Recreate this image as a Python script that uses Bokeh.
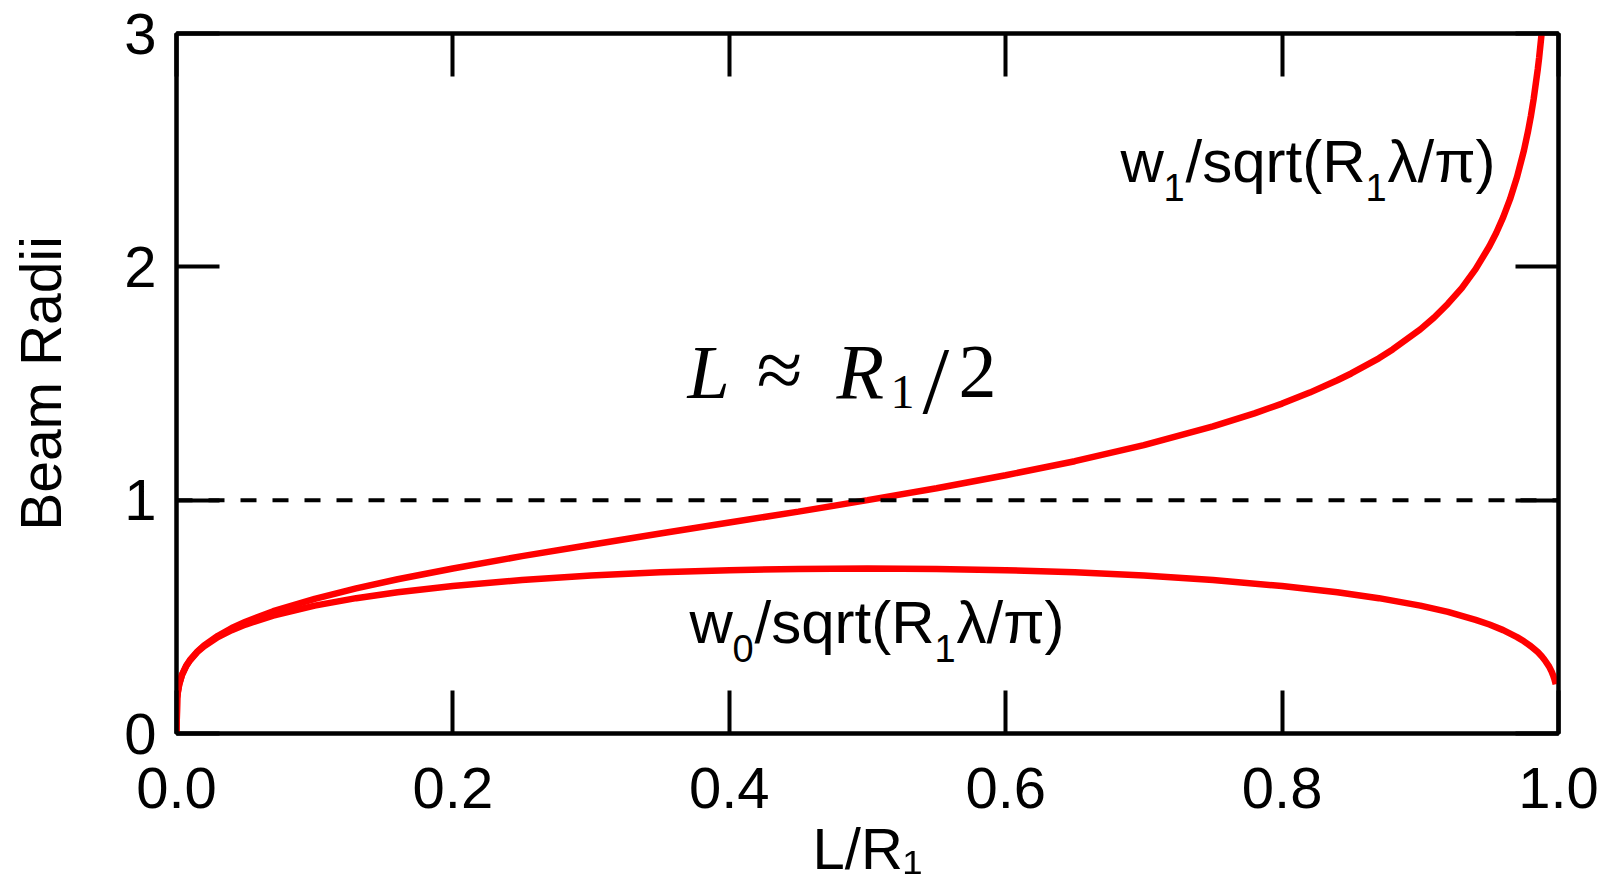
import math
from bokeh.plotting import figure
from bokeh.models import (Label, Span, LinearAxis, FixedTicker, NumeralTickFormatter,
                          CustomJSTickFormatter, Range1d)
from bokeh.embed import file_html
from bokeh.resources import INLINE

# ---- data ----
x_w1 = [0, 0.0005, 0.001, 0.002, 0.004, 0.007, 0.01, 0.015, 0.02, 0.03,
        0.04, 0.05, 0.07, 0.1, 0.13, 0.16, 0.2, 0.25, 0.3, 0.35,
        0.4, 0.45, 0.5, 0.55, 0.6, 0.65, 0.7, 0.75,
        0.78, 0.8, 0.82, 0.84, 0.85, 0.87, 0.88, 0.9, 0.91, 0.92,
        0.93, 0.94, 0.95, 0.955, 0.96, 0.965, 0.97, 0.975, 0.978, 0.98,
        0.982, 0.985, 0.986, 0.988]
w1 = [0, 0.150, 0.178, 0.212, 0.252, 0.290, 0.317, 0.351, 0.378, 0.419,
      0.452, 0.479, 0.524, 0.577, 0.622, 0.661, 0.707, 0.760, 0.809, 0.857,
      0.904, 0.951, 1.000, 1.051, 1.107, 1.167, 1.236, 1.316,
      1.372, 1.414, 1.461, 1.514, 1.543, 1.608, 1.646, 1.732, 1.783, 1.842,
      1.909, 1.990, 2.088, 2.146, 2.213, 2.291, 2.385, 2.499, 2.582, 2.646,
      2.718, 2.847, 2.897, 3.012]

x_w0 = [0, 0.0005, 0.001, 0.002, 0.004, 0.007, 0.01, 0.015, 0.02, 0.03,
        0.04, 0.05, 0.07, 0.1, 0.13, 0.16, 0.2, 0.25, 0.3, 0.35,
        0.4, 0.45, 0.5, 0.55, 0.6, 0.65, 0.7, 0.75, 0.8, 0.84,
        0.87, 0.9, 0.92, 0.94, 0.95, 0.96, 0.97, 0.975, 0.98, 0.985,
        0.988, 0.99, 0.993, 0.995, 0.996, 0.997, 0.998]
w0 = [0, 0.150, 0.178, 0.211, 0.251, 0.289, 0.315, 0.349, 0.374, 0.413,
      0.443, 0.467, 0.505, 0.548, 0.580, 0.605, 0.632, 0.658, 0.677, 0.691,
      0.700, 0.705, 0.707, 0.705, 0.700, 0.691, 0.677, 0.658, 0.632, 0.605,
      0.580, 0.548, 0.521, 0.487, 0.467, 0.443, 0.413, 0.395, 0.374, 0.349,
      0.330, 0.315, 0.289, 0.266, 0.251, 0.234, 0.211]

ref_level = 1.0
x_ticks = [0.0, 0.2, 0.4, 0.6, 0.8, 1.0]
y_ticks = [0, 1, 2, 3]
x_limits = (0.0, 1.0)
y_limits = (0.0, 3.0)

x_title = "L/R\u2081"
y_title = "Beam Radii"
w1_label = ["w", "1", "/sqrt(R", "1", "λ/π)"]
w0_label = ["w", "0", "/sqrt(R", "1", "λ/π)"]

# ---- figure ----
W, H = 1600, 883
FX0, FX1, FY0, FY1 = 176, 1558, 735, 33   # frame edges in page pixels
p = figure(width=W, height=H, output_backend="svg", toolbar_location=None,
           x_range=Range1d(*x_limits), y_range=Range1d(*y_limits),
           x_axis_location=None, y_axis_location=None,
           min_border_left=FX0, min_border_right=W - FX1,
           min_border_top=FY1, min_border_bottom=H - FY0)
p.xgrid.visible = False
p.ygrid.visible = False
p.background_fill_color = "white"
p.border_fill_color = "white"
p.outline_line_color = "black"
p.outline_line_width = 4

FONT = "Liberation Sans"
TICK_SIZE = "58px"

def style_axis(ax, ticks, show_labels, fmt=None, standoff=22):
    ax.ticker = FixedTicker(ticks=ticks)
    ax.axis_line_color = "black"
    ax.axis_line_width = 4
    ax.major_tick_line_color = "black"
    ax.major_tick_line_width = 4
    ax.major_tick_in = 43
    ax.major_tick_out = 0
    ax.minor_tick_line_color = None
    ax.major_label_text_font = FONT
    ax.major_label_text_font_size = TICK_SIZE
    ax.major_label_text_color = "black"
    ax.major_label_standoff = standoff
    ax.axis_label_text_font = FONT
    ax.axis_label_text_font_style = "normal"
    ax.axis_label_text_color = "black"
    if show_labels:
        if fmt is not None:
            ax.formatter = fmt
    else:
        ax.formatter = CustomJSTickFormatter(code="return ''")
        ax.major_label_standoff = 0

xb = LinearAxis()
style_axis(xb, x_ticks, True, NumeralTickFormatter(format="0.0"), standoff=34)
xb.axis_label = x_title
xb.axis_label_text_font_size = "58px"
xb.axis_label_standoff = 5
p.add_layout(xb, "below")
xt = LinearAxis()
style_axis(xt, x_ticks, False)
p.add_layout(xt, "above")
yl = LinearAxis()
style_axis(yl, y_ticks, True, NumeralTickFormatter(format="0"), standoff=20)
yl.axis_label = y_title
yl.axis_label_text_font_size = "57px"
yl.axis_label_standoff = 48
p.add_layout(yl, "left")
yr = LinearAxis()
style_axis(yr, y_ticks, False)
p.add_layout(yr, "right")

# dashed reference line
p.add_layout(Span(location=ref_level, dimension="width", line_color="black",
                  line_width=4, line_dash="16 16"))

# curves
p.line(x_w1, w1, line_color="#ff0000", line_width=6.5)
p.line(x_w0, w0, line_color="#ff0000", line_width=6.5)

# ---- text (positions given in page pixels of the layout) ----
def px2x(px):
    return x_limits[0] + (px - FX0) / (FX1 - FX0) * (x_limits[1] - x_limits[0])
def py2y(py):
    return y_limits[0] + (FY0 - py) / (FY0 - FY1) * (y_limits[1] - y_limits[0])

BASE_SHIFT = 0.36  # empirical correction of the rendered baseline (in em)

def lab(px, py, text, size, font=FONT, style="normal", align="left", angle=0.0):
    size_px = float(size.replace("px", ""))
    p.add_layout(Label(x=px2x(px), y=py2y(py - BASE_SHIFT * size_px), text=text,
                       text_font=font, text_font_size=size, text_font_style=style,
                       text_align=align, text_baseline="alphabetic",
                       text_color="black", angle=angle))

# curve labels with subscripts
def sub_label(x0, base, parts):
    main, sub = "60px", "38px"
    xs = [x0, x0 + 43, x0 + 65, x0 + 245, x0 + 267]
    for i, (t, xx) in enumerate(zip(parts, xs)):
        if i in (1, 3):
            lab(xx, base + 18, t, sub)
        else:
            lab(xx, base, t, main)

sub_label(1120, 183, w1_label)
sub_label(689, 645, w0_label)

# L ≈ R1/2 (math style)
SERIF = "Liberation Serif"
lab(687, 400, "L", "76px", SERIF, "italic")
lab(756, 400, "≈", "84px", SERIF)
lab(836, 400, "R", "78px", SERIF, "italic")
lab(890, 410, "1", "48px", SERIF)
lab(922, 416, "/", "96px", SERIF)
lab(958, 400, "2", "76px", SERIF)

open("out.html", "w").write(file_html(p, INLINE))
